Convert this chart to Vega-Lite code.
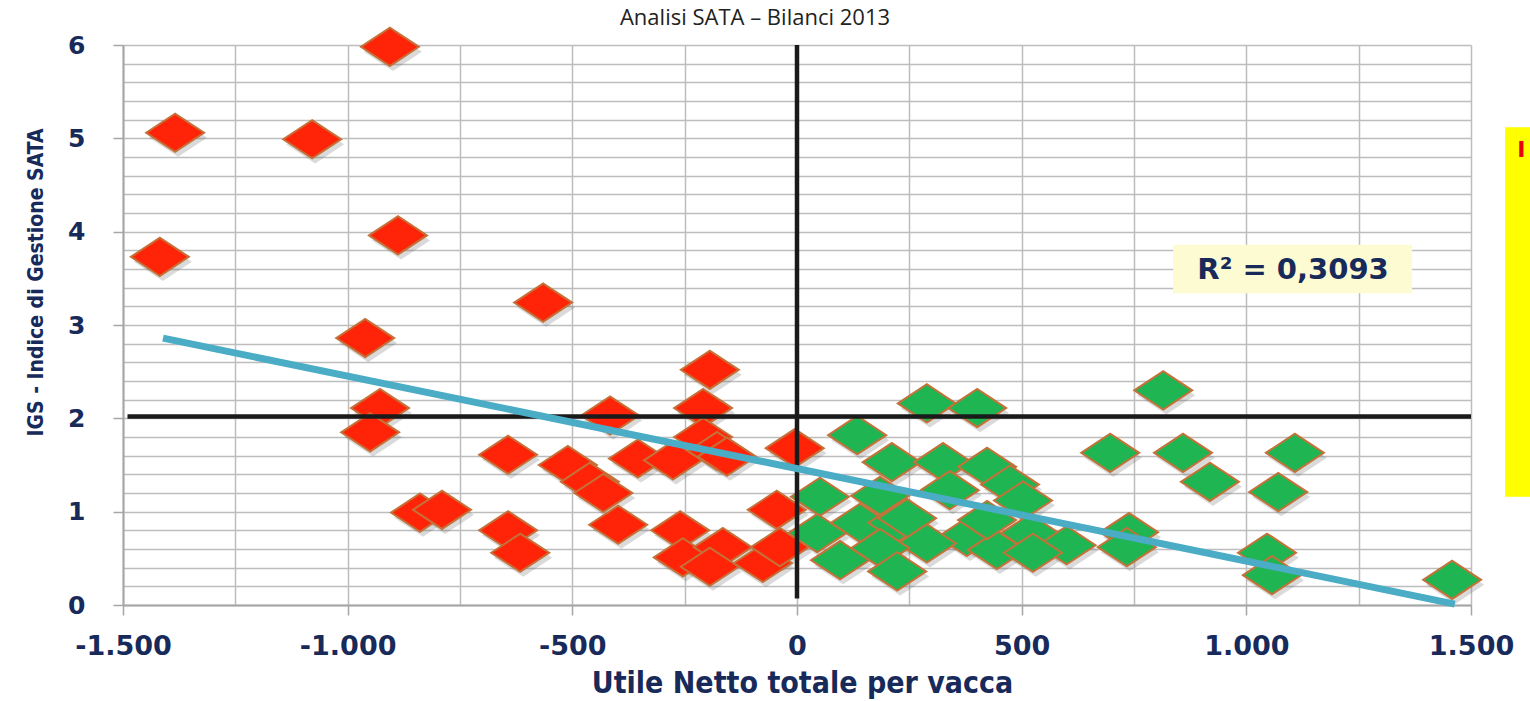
{
  "$schema": "https://vega.github.io/schema/vega-lite/v6.json",
  "width": 1348,
  "height": 560,
  "autosize": {"type": "none"},
  "padding": {"left": 123, "top": 45, "right": 59, "bottom": 96},
  "background": "white",
  "title": {
    "text": "Analisi SATA – Bilanci 2013",
    "font": "Open Sans",
    "fontSize": 22,
    "fontWeight": "normal",
    "color": "#222222",
    "anchor": "middle",
    "frame": "group",
    "dx": -42,
    "baseline": "alphabetic",
    "offset": -23
  },
  "config": {"view": {"stroke": null}},
  "datasets": {
    "punti": [
      {"utile": -1384, "igs": 5.06, "gruppo": "negativo"},
      {"utile": -1418, "igs": 3.73, "gruppo": "negativo"},
      {"utile": -906, "igs": 5.98, "gruppo": "negativo"},
      {"utile": -1079, "igs": 4.99, "gruppo": "negativo"},
      {"utile": -888, "igs": 3.96, "gruppo": "negativo"},
      {"utile": -961, "igs": 2.86, "gruppo": "negativo"},
      {"utile": -928, "igs": 2.11, "gruppo": "negativo"},
      {"utile": -950, "igs": 1.85, "gruppo": "negativo"},
      {"utile": -565, "igs": 3.24, "gruppo": "negativo"},
      {"utile": -194, "igs": 2.52, "gruppo": "negativo"},
      {"utile": -839, "igs": 0.99, "gruppo": "negativo"},
      {"utile": -790, "igs": 1.02, "gruppo": "negativo"},
      {"utile": -643, "igs": 1.61, "gruppo": "negativo"},
      {"utile": -643, "igs": 0.80, "gruppo": "negativo"},
      {"utile": -616, "igs": 0.56, "gruppo": "negativo"},
      {"utile": -510, "igs": 1.50, "gruppo": "negativo"},
      {"utile": -461, "igs": 1.32, "gruppo": "negativo"},
      {"utile": -431, "igs": 1.20, "gruppo": "negativo"},
      {"utile": -398, "igs": 0.86, "gruppo": "negativo"},
      {"utile": -416, "igs": 2.03, "gruppo": "negativo"},
      {"utile": -354, "igs": 1.57, "gruppo": "negativo"},
      {"utile": -276, "igs": 1.55, "gruppo": "negativo"},
      {"utile": -209, "igs": 2.11, "gruppo": "negativo"},
      {"utile": -209, "igs": 1.80, "gruppo": "negativo"},
      {"utile": -178, "igs": 1.65, "gruppo": "negativo"},
      {"utile": -156, "igs": 1.59, "gruppo": "negativo"},
      {"utile": -260, "igs": 0.80, "gruppo": "negativo"},
      {"utile": -254, "igs": 0.51, "gruppo": "negativo"},
      {"utile": -165, "igs": 0.62, "gruppo": "negativo"},
      {"utile": -194, "igs": 0.41, "gruppo": "negativo"},
      {"utile": -76, "igs": 0.45, "gruppo": "negativo"},
      {"utile": -45, "igs": 1.02, "gruppo": "negativo"},
      {"utile": -38, "igs": 0.62, "gruppo": "negativo"},
      {"utile": -5, "igs": 1.68, "gruppo": "negativo"},
      {"utile": 289, "igs": 2.16, "gruppo": "positivo"},
      {"utile": 401, "igs": 2.11, "gruppo": "positivo"},
      {"utile": 134, "igs": 1.82, "gruppo": "positivo"},
      {"utile": 211, "igs": 1.53, "gruppo": "positivo"},
      {"utile": 325, "igs": 1.53, "gruppo": "positivo"},
      {"utile": 423, "igs": 1.48, "gruppo": "positivo"},
      {"utile": 474, "igs": 1.29, "gruppo": "positivo"},
      {"utile": 340, "igs": 1.23, "gruppo": "positivo"},
      {"utile": 51, "igs": 1.16, "gruppo": "positivo"},
      {"utile": 185, "igs": 1.17, "gruppo": "positivo"},
      {"utile": 503, "igs": 1.12, "gruppo": "positivo"},
      {"utile": 140, "igs": 0.88, "gruppo": "positivo"},
      {"utile": 223, "igs": 0.88, "gruppo": "positivo"},
      {"utile": 245, "igs": 0.93, "gruppo": "positivo"},
      {"utile": 45, "igs": 0.77, "gruppo": "positivo"},
      {"utile": 378, "igs": 0.73, "gruppo": "positivo"},
      {"utile": 289, "igs": 0.66, "gruppo": "positivo"},
      {"utile": 445, "igs": 0.59, "gruppo": "positivo"},
      {"utile": 96, "igs": 0.48, "gruppo": "positivo"},
      {"utile": 185, "igs": 0.61, "gruppo": "positivo"},
      {"utile": 223, "igs": 0.36, "gruppo": "positivo"},
      {"utile": 423, "igs": 0.91, "gruppo": "positivo"},
      {"utile": 815, "igs": 2.30, "gruppo": "positivo"},
      {"utile": 697, "igs": 1.63, "gruppo": "positivo"},
      {"utile": 859, "igs": 1.63, "gruppo": "positivo"},
      {"utile": 919, "igs": 1.32, "gruppo": "positivo"},
      {"utile": 519, "igs": 0.77, "gruppo": "positivo"},
      {"utile": 600, "igs": 0.64, "gruppo": "positivo"},
      {"utile": 525, "igs": 0.56, "gruppo": "positivo"},
      {"utile": 739, "igs": 0.78, "gruppo": "positivo"},
      {"utile": 734, "igs": 0.62, "gruppo": "positivo"},
      {"utile": 1108, "igs": 1.63, "gruppo": "positivo"},
      {"utile": 1071, "igs": 1.21, "gruppo": "positivo"},
      {"utile": 1046, "igs": 0.56, "gruppo": "positivo"},
      {"utile": 1057, "igs": 0.32, "gruppo": "positivo"},
      {"utile": 1458, "igs": 0.27, "gruppo": "positivo"}
    ],
    "riferimenti": [
      {"x1": -1490, "y1": 2.02, "x2": 1500, "y2": 2.02},
      {"x1": 0, "y1": 6, "x2": 0, "y2": 0.07}
    ],
    "tendenza": [
      {"x1": -1411, "y1": 2.86, "x2": 1464, "y2": 0.01}
    ],
    "r2box": [
      {"x1": 837, "x2": 1369, "y1": 3.86, "y2": 3.34, "xc": 1104, "yc": 3.59, "testo": "R² = 0,3093"}
    ],
    "laterale": [
      {"x1": 1576, "x2": 1650, "y1": 5.12, "y2": 1.16, "xt": 1603, "yt": 4.88, "testo": "I"}
    ]
  },
  "layer": [
    {
      "data": {"name": "punti"},
      "mark": {"type": "point", "shape": "M -1 0 L 0 -0.66 L 1 0 L 0 0.66 Z", "size": 3364, "filled": true, "color": "#555555", "opacity": 0.22, "xOffset": 3, "yOffset": 5},
      "encoding": {
        "x": {
          "field": "utile", "type": "quantitative",
          "scale": {"domain": [-1500, 1500], "nice": false, "zero": false},
          "axis": {
            "values": [-1500, -1250, -1000, -750, -500, -250, 0, 250, 500, 750, 1000, 1250, 1500],
            "tickCount": 40,
            "labelExpr": "datum.value % 500 !== 0 ? '' : (datum.value === 0 ? '0' : (datum.value < 0 ? '-' : '') + replace(format(abs(datum.value), ','), ',', '.'))",
            "labelOverlap": false,
            "labelFlush": false,
            "labelFont": "DejaVu Sans",
            "labelFontWeight": "bold",
            "labelFontSize": 27,
            "labelColor": "#172a5a",
            "labelPadding": 18,
            "grid": true,
            "gridColor": "#bdbdbd",
            "gridWidth": 1.5,
            "domainColor": "#a6a6a6",
            "domainWidth": 2,
            "tickColor": "#a6a6a6",
            "tickWidth": 1.5,
            "tickSize": 10,
            "tickOpacity": {"condition": {"test": "datum.value % 500 === 0", "value": 1}, "value": 0},
            "title": "Utile Netto totale per vacca",
            "titleFont": "DejaVu Sans Condensed",
            "titleFontWeight": "bold",
            "titleFontSize": 30,
            "titleColor": "#172a5a",
            "titleBaseline": "alphabetic",
            "titleAlign": "center",
            "titleX": 679,
            "titleY": 87
          }
        },
        "y": {
          "field": "igs", "type": "quantitative",
          "scale": {"domain": [0, 6], "nice": false, "zero": false},
          "axis": {
            "values": [0, 0.2, 0.4, 0.6, 0.8, 1, 1.2, 1.4, 1.6, 1.8, 2, 2.2, 2.4, 2.6, 2.8, 3, 3.2, 3.4, 3.6, 3.8, 4, 4.2, 4.4, 4.6, 4.8, 5, 5.2, 5.4, 5.6, 5.8, 6],
            "tickCount": 40,
            "labelExpr": "abs(datum.value - round(datum.value)) < 0.001 ? format(datum.value, 'd') : ''",
            "labelOverlap": false,
            "labelFlush": false,
            "labelFont": "DejaVu Sans",
            "labelFontWeight": "bold",
            "labelFontSize": 25,
            "labelColor": "#172a5a",
            "labelPadding": 28,
            "grid": true,
            "gridColor": "#bdbdbd",
            "gridWidth": 1.5,
            "domainColor": "#a6a6a6",
            "domainWidth": 2,
            "tickColor": "#a6a6a6",
            "tickWidth": 1.5,
            "tickSize": 10,
            "tickOpacity": {"condition": {"test": "abs(datum.value - round(datum.value)) < 0.001", "value": 1}, "value": 0},
            "title": "IGS - Indice di Gestione SATA",
            "titleFont": "DejaVu Sans Condensed",
            "titleFontWeight": "bold",
            "titleFontSize": 21,
            "titleColor": "#172a5a",
            "titleAngle": -90,
            "titleBaseline": "alphabetic",
            "titleAlign": "center",
            "titleX": -81,
            "titleY": 237
          }
        }
      }
    },
    {
      "data": {"name": "punti"},
      "mark": {"type": "point", "shape": "M -1 0 L 0 -0.66 L 1 0 L 0 0.66 Z", "size": 3364, "filled": true, "opacity": 1, "stroke": "#c4723a", "strokeWidth": 2},
      "encoding": {
        "x": {"field": "utile", "type": "quantitative"},
        "y": {"field": "igs", "type": "quantitative"},
        "fill": {"field": "gruppo", "type": "nominal", "scale": {"domain": ["negativo", "positivo"], "range": ["#ff2408", "#1fb552"]}, "legend": null}
      }
    },
    {
      "data": {"name": "riferimenti"},
      "mark": {"type": "rule", "color": "#1a1a1a", "strokeWidth": 4.5},
      "encoding": {
        "x": {"field": "x1", "type": "quantitative"},
        "y": {"field": "y1", "type": "quantitative"},
        "x2": {"field": "x2"},
        "y2": {"field": "y2"}
      }
    },
    {
      "data": {"name": "tendenza"},
      "mark": {"type": "rule", "color": "#4bacc6", "strokeWidth": 7},
      "encoding": {
        "x": {"field": "x1", "type": "quantitative"},
        "y": {"field": "y1", "type": "quantitative"},
        "x2": {"field": "x2"},
        "y2": {"field": "y2"}
      }
    },
    {
      "data": {"name": "r2box"},
      "mark": {"type": "rect", "color": "#fdfbd2"},
      "encoding": {
        "x": {"field": "x1", "type": "quantitative"},
        "x2": {"field": "x2"},
        "y": {"field": "y1", "type": "quantitative"},
        "y2": {"field": "y2"}
      }
    },
    {
      "data": {"name": "r2box"},
      "mark": {"type": "text", "font": "DejaVu Sans", "fontWeight": "bold", "fontSize": 29, "color": "#172a5a", "align": "center", "baseline": "middle"},
      "encoding": {
        "x": {"field": "xc", "type": "quantitative"},
        "y": {"field": "yc", "type": "quantitative"},
        "text": {"field": "testo"}
      }
    },
    {
      "data": {"name": "laterale"},
      "mark": {"type": "rect", "color": "#ffff00"},
      "encoding": {
        "x": {"field": "x1", "type": "quantitative"},
        "x2": {"field": "x2"},
        "y": {"field": "y1", "type": "quantitative"},
        "y2": {"field": "y2"}
      }
    },
    {
      "data": {"name": "laterale"},
      "mark": {"type": "text", "font": "DejaVu Sans", "fontWeight": "bold", "fontSize": 22, "color": "#e8000b", "align": "left", "baseline": "middle"},
      "encoding": {
        "x": {"field": "xt", "type": "quantitative"},
        "y": {"field": "yt", "type": "quantitative"},
        "text": {"field": "testo"}
      }
    }
  ]
}
